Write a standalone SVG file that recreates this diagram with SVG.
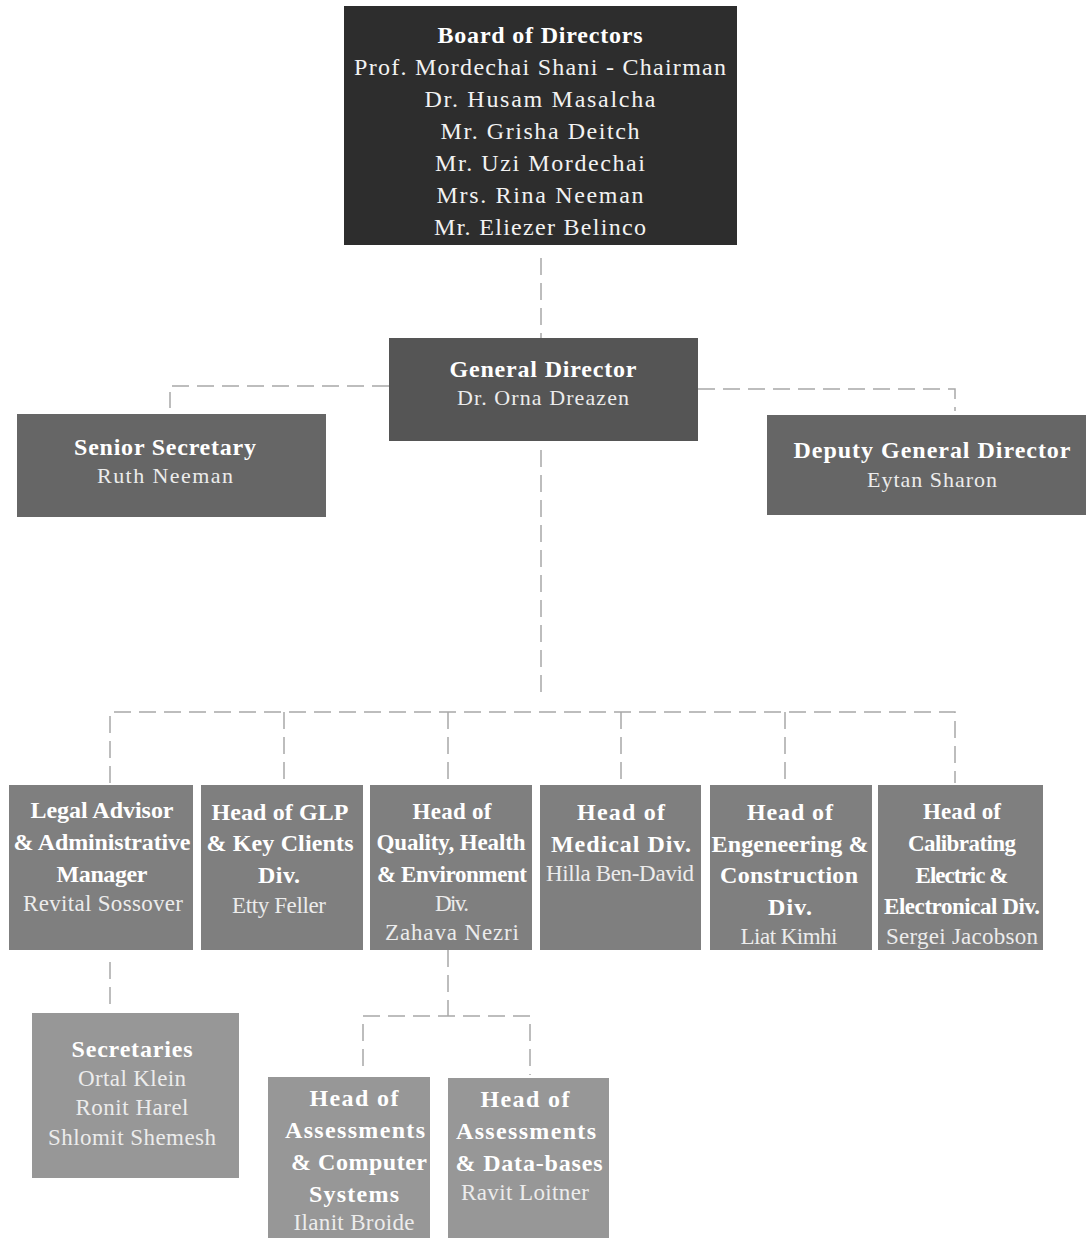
<svg xmlns="http://www.w3.org/2000/svg" width="1086" height="1238" viewBox="0 0 1086 1238">
<style>
text{font-family:"Liberation Serif","DejaVu Serif",serif;text-anchor:middle;fill:#ffffff}
.t{font-weight:bold;font-size:24px}
.tc{font-weight:bold;font-size:23px}
.n{font-size:23px;fill:#ececec}
.ns{font-size:22px;fill:#ececec}
.bd{font-size:24px;fill:#f2f2f2}
.bt{font-weight:bold;font-size:24px}
.c{fill:none;stroke:#a8a8a8;stroke-width:1.5;stroke-dasharray:17 8}
</style>
<rect width="1086" height="1238" fill="#ffffff"/>
<g id="connectors">
<path class="c" d="M541 258V338"/>
<path class="c" d="M389 386H170V408"/>
<path class="c" d="M698 389H955V411"/>
<path class="c" d="M541 450V695"/>
<path class="c" d="M110 783V712H955V783"/>
<path class="c" d="M284 712V783"/>
<path class="c" d="M448 712V783"/>
<path class="c" d="M621 712V783"/>
<path class="c" d="M785 712V783"/>
<path class="c" d="M110 962V1008"/>
<path class="c" d="M448 950V1016"/>
<path class="c" d="M363 1066V1016H530V1075"/>
</g>
<g id="board">
<rect x="344" y="6" width="393" height="239" fill="#2d2d2d"/>
<text class="bt" x="540" y="43" textLength="205">Board of Directors</text>
<text class="bd" x="540" y="75" textLength="372">Prof. Mordechai Shani - Chairman</text>
<text class="bd" x="540" y="107" textLength="231">Dr. Husam Masalcha</text>
<text class="bd" x="540" y="139" textLength="199">Mr. Grisha Deitch</text>
<text class="bd" x="540" y="171" textLength="210">Mr. Uzi Mordechai</text>
<text class="bd" x="540" y="203" textLength="207">Mrs. Rina Neeman</text>
<text class="bd" x="540" y="235" textLength="212">Mr. Eliezer Belinco</text>
</g>
<g id="general-director">
<rect x="389" y="338" width="309" height="103" fill="#555555"/>
<text class="t" x="543" y="377" textLength="187">General Director</text>
<text class="ns" x="543" y="405" textLength="172">Dr. Orna Dreazen</text>
</g>
<g id="senior-secretary">
<rect x="17" y="414" width="309" height="103" fill="#666666"/>
<text class="t" x="165" y="455" textLength="182">Senior Secretary</text>
<text class="ns" x="165" y="483" textLength="136">Ruth Neeman</text>
</g>
<g id="deputy-general-director">
<rect x="767" y="415" width="319" height="100" fill="#666666"/>
<text class="t" x="932" y="458" textLength="277">Deputy General Director</text>
<text class="ns" x="932" y="487" textLength="130">Eytan Sharon</text>
</g>
<g id="legal-advisor">
<rect x="9" y="785" width="184" height="165" fill="#7f7f7f"/>
<text class="t" x="102" y="818" textLength="143">Legal Advisor</text>
<text class="t" x="102" y="850" textLength="177">&amp; Administrative</text>
<text class="t" x="102" y="882" textLength="91">Manager</text>
<text class="n" x="103" y="911" textLength="160">Revital Sossover</text>
</g>
<g id="glp">
<rect x="201" y="785" width="162" height="165" fill="#7f7f7f"/>
<text class="t" x="280" y="820" textLength="137">Head of GLP</text>
<text class="t" x="280" y="851" textLength="147">&amp; Key Clients</text>
<text class="t" x="279" y="883" textLength="42">Div.</text>
<text class="n" x="279" y="913" textLength="94">Etty Feller</text>
</g>
<g id="quality">
<rect x="370" y="785" width="162" height="165" fill="#7f7f7f"/>
<text class="tc" x="452" y="819" textLength="79">Head of</text>
<text class="tc" x="451" y="850" textLength="149">Quality, Health</text>
<text class="tc" x="452" y="882" textLength="150">&amp; Environment</text>
<text class="n" x="452" y="911" textLength="34">Div.</text>
<text class="n" x="452" y="940" textLength="134">Zahava Nezri</text>
</g>
<g id="medical">
<rect x="540" y="785" width="161" height="165" fill="#7f7f7f"/>
<text class="t" x="621" y="820" textLength="88">Head of</text>
<text class="t" x="621" y="852" textLength="140">Medical Div.</text>
<text class="n" x="620" y="881" textLength="148">Hilla Ben-David</text>
</g>
<g id="engineering">
<rect x="710" y="785" width="162" height="165" fill="#7f7f7f"/>
<text class="t" x="790" y="820" textLength="86">Head of</text>
<text class="t" x="790" y="852" textLength="157">Engeneering &amp;</text>
<text class="t" x="789" y="883" textLength="138">Construction</text>
<text class="t" x="790" y="915" textLength="44">Div.</text>
<text class="n" x="789" y="944" textLength="97">Liat Kimhi</text>
</g>
<g id="calibrating">
<rect x="878" y="785" width="165" height="165" fill="#7f7f7f"/>
<text class="tc" x="962" y="819" textLength="78">Head of</text>
<text class="tc" x="962" y="851" textLength="108">Calibrating</text>
<text class="tc" x="962" y="883" textLength="93">Electric &amp;</text>
<text class="tc" x="962" y="914" textLength="156">Electronical Div.</text>
<text class="n" x="962" y="944" textLength="152">Sergei Jacobson</text>
</g>
<g id="secretaries">
<rect x="32" y="1013" width="207" height="165" fill="#979797"/>
<text class="t" x="132" y="1057" textLength="121">Secretaries</text>
<text class="n" x="132" y="1086" textLength="108">Ortal Klein</text>
<text class="n" x="132" y="1115" textLength="113">Ronit Harel</text>
<text class="n" x="132" y="1145" textLength="168">Shlomit Shemesh</text>
</g>
<g id="assessments-computer">
<rect x="268" y="1077" width="162" height="161" fill="#979797"/>
<text class="t" x="354" y="1106" textLength="89">Head of</text>
<text class="t" x="355" y="1138" textLength="140">Assessments</text>
<text class="t" x="359" y="1170" textLength="136">&amp; Computer</text>
<text class="t" x="354" y="1202" textLength="90">Systems</text>
<text class="n" x="354" y="1230" textLength="121">Ilanit Broide</text>
</g>
<g id="assessments-databases">
<rect x="448" y="1078" width="161" height="160" fill="#979797"/>
<text class="t" x="525" y="1107" textLength="89">Head of</text>
<text class="t" x="526" y="1139" textLength="140">Assessments</text>
<text class="t" x="529" y="1171" textLength="147">&amp; Data-bases</text>
<text class="n" x="525" y="1200" textLength="128">Ravit Loitner</text>
</g>
</svg>
